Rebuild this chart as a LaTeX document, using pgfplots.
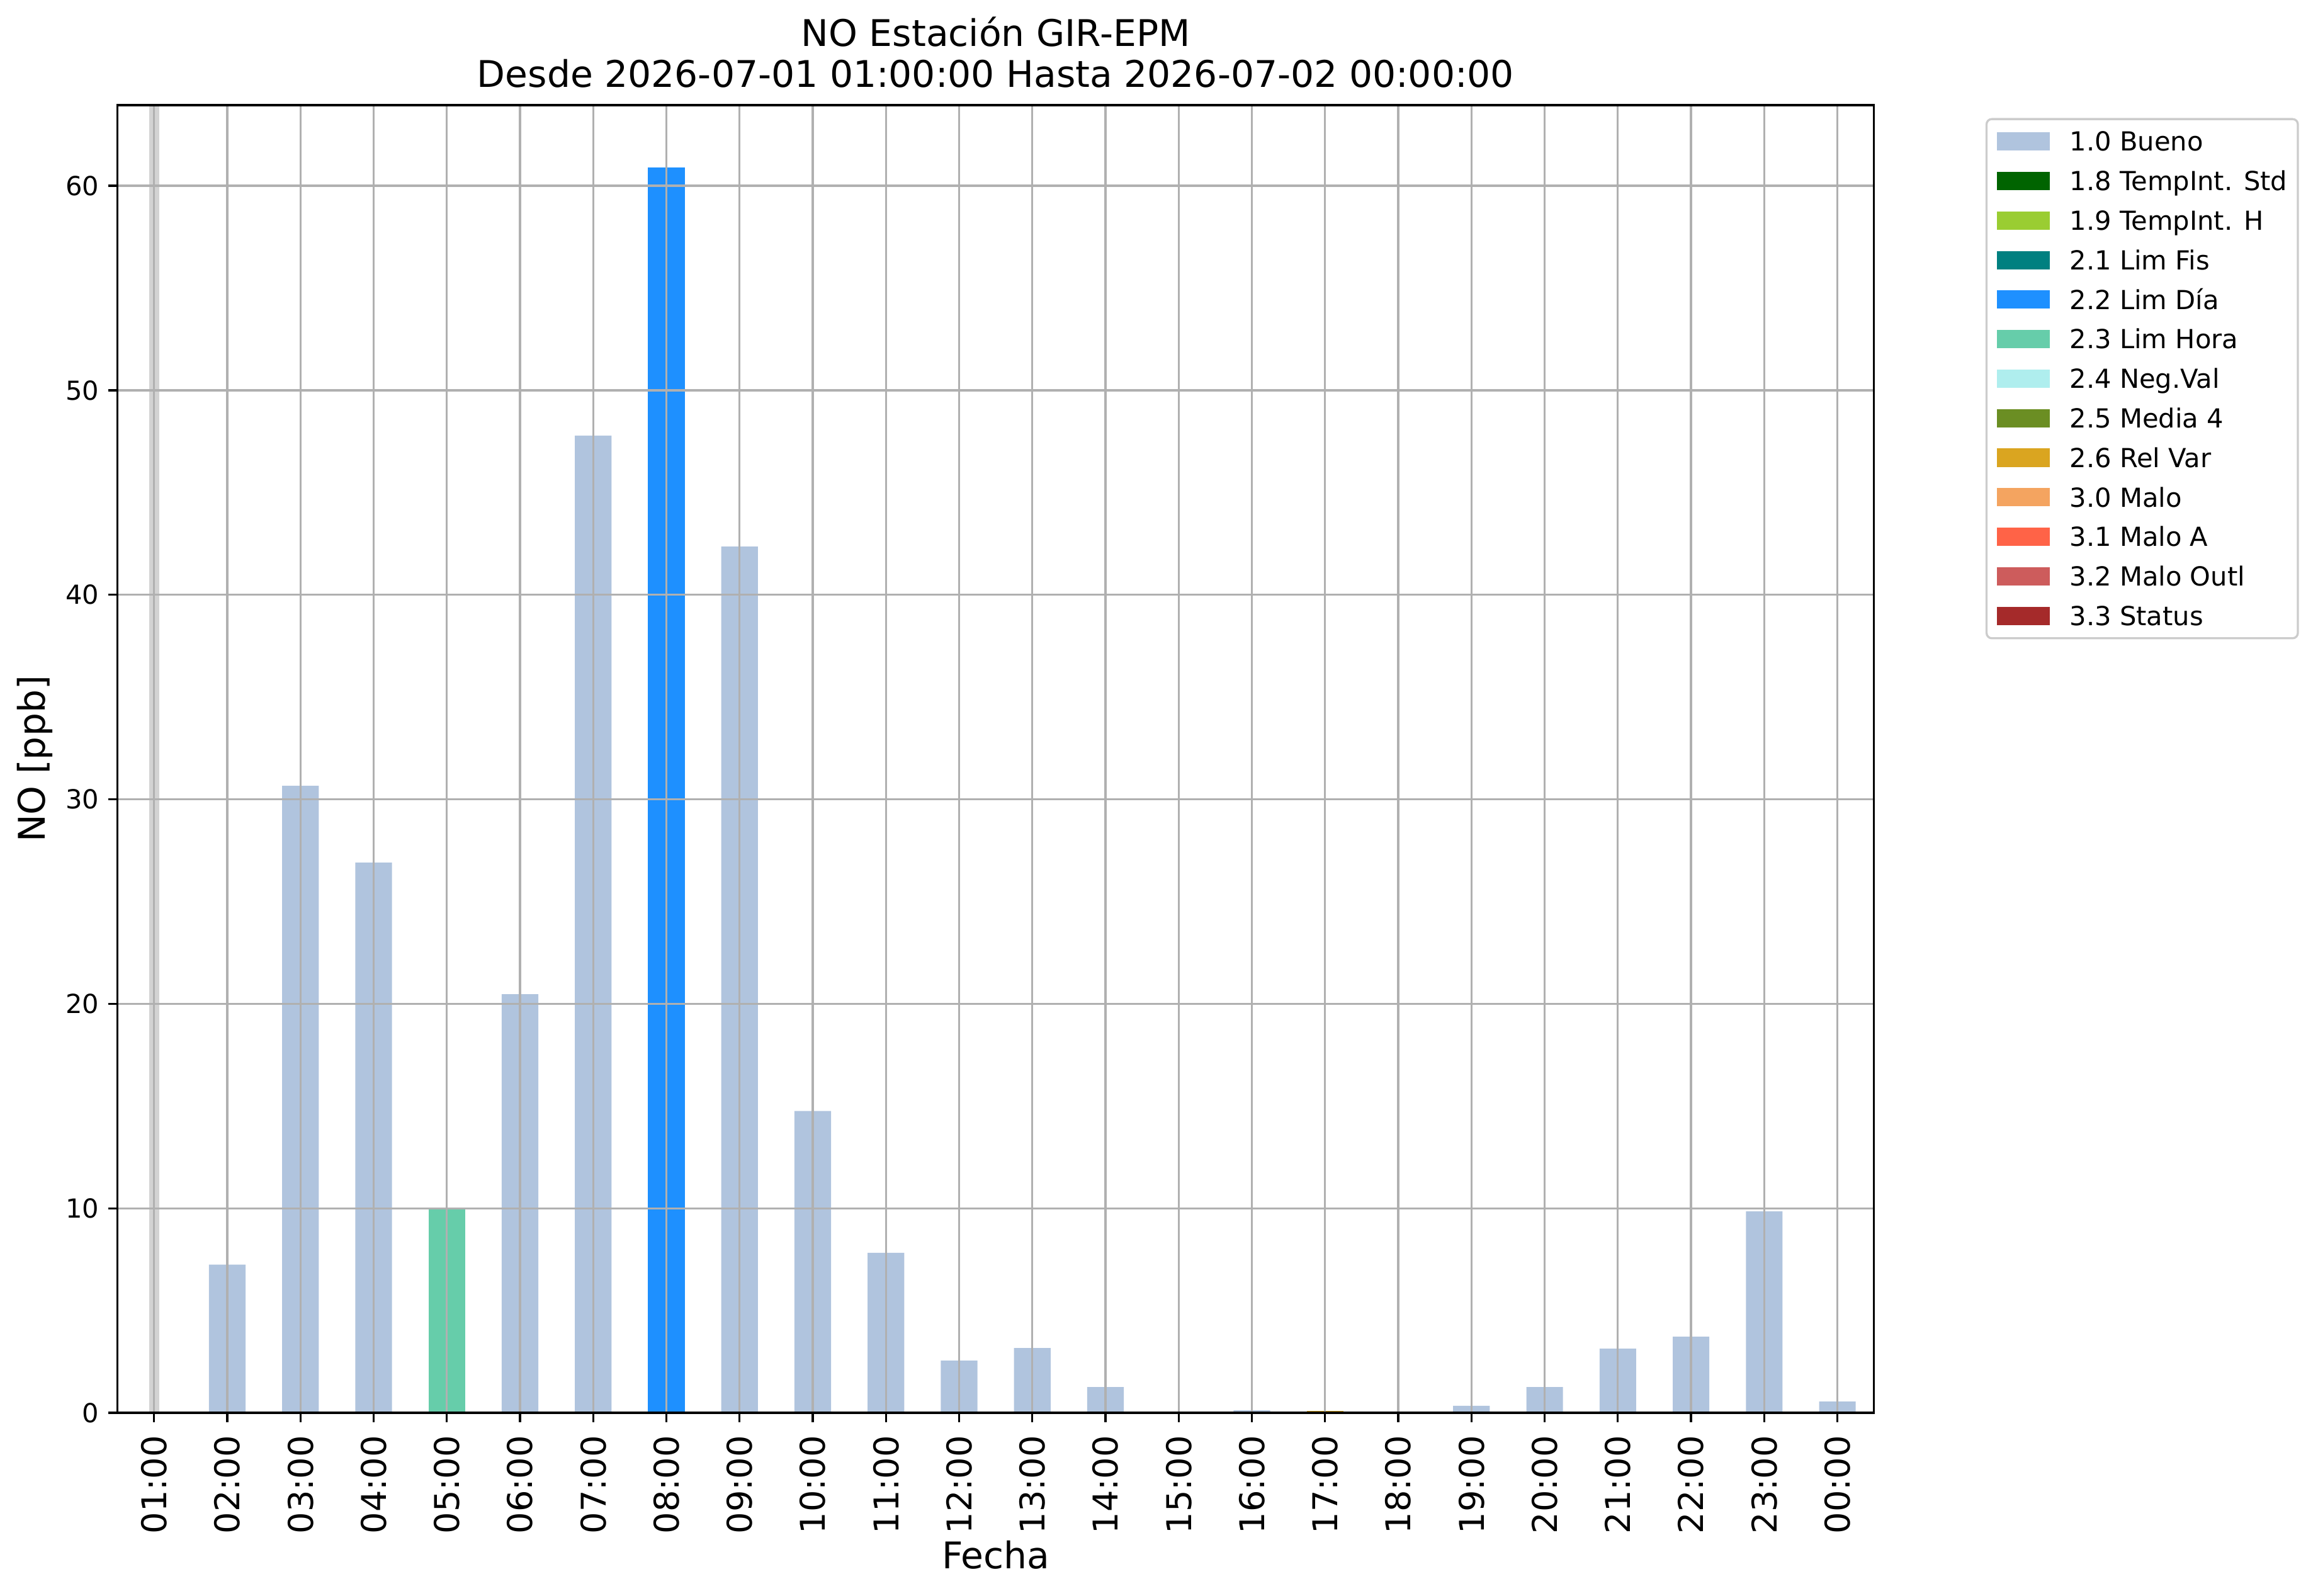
\documentclass[border=0pt]{standalone}
\usepackage{pgfplots}
\pgfplotsset{compat=1.18}
\usepackage{fontspec}
\setmainfont{DejaVu Sans}
\definecolor{cBueno}{HTML}{B0C4DE}
\definecolor{cTempStd}{HTML}{006400}
\definecolor{cTempH}{HTML}{9ACD32}
\definecolor{cLimFis}{HTML}{008080}
\definecolor{cLimDia}{HTML}{1E90FF}
\definecolor{cLimHora}{HTML}{66CDAA}
\definecolor{cNegVal}{HTML}{AFEEEE}
\definecolor{cMedia}{HTML}{6B8E23}
\definecolor{cRelVar}{HTML}{DAA520}
\definecolor{cMalo}{HTML}{F4A460}
\definecolor{cMaloA}{HTML}{FF6347}
\definecolor{cMaloOutl}{HTML}{CD5C5C}
\definecolor{cStatus}{HTML}{A52A2A}
\definecolor{cGrid}{HTML}{B0B0B0}
\definecolor{cMissing}{HTML}{D3D3D3}
\definecolor{cLegFrame}{HTML}{CCCCCC}
\begin{document}
\begin{tikzpicture}
\useasboundingbox (0,0) rectangle (883.68pt,608.16pt);
\begin{axis}[
  at={(44.8pt,69.6pt)}, anchor=south west,
  scale only axis, width=669.6pt, height=498.5pt,
  xmin=-0.5, xmax=23.5, ymin=0, ymax=63.945,
  axis on top,
  grid=major,
  grid style={cGrid, line width=0.8pt},
  axis line style={black, line width=0.8pt},
  tick pos=left,
  tick align=outside,
  major tick length=3.5pt,
  tick style={black, line width=0.8pt},
  xtick={0,...,23},
  xticklabels={01:00,02:00,03:00,04:00,05:00,06:00,07:00,08:00,09:00,10:00,11:00,12:00,13:00,14:00,15:00,16:00,17:00,18:00,19:00,20:00,21:00,22:00,23:00,00:00},
  ytick={0,10,20,30,40,50,60},
  /pgf/number format/assume math mode=true,
  xticklabel style={font=\fontsize{13}{15.6}\selectfont, rotate=90, anchor=east, inner sep=0pt},
  yticklabel style={font=\fontsize{10}{12}\selectfont, anchor=east, inner sep=0pt},
  xticklabel shift=5pt,
  yticklabel shift=3.4pt,
  xlabel={Fecha},
  xlabel style={at={(axis description cs:0.5,0)}, anchor=base, yshift=-59.4pt, font=\fontsize{14}{16.8}\selectfont},
  ylabel={NO [ppb]},
  ylabel style={at={(axis description cs:-0.0472,0.5)}, anchor=center, font=\fontsize{14}{16.8}\selectfont},
  title={NO Estación GIR-EPM\\Desde 2026-07-01 01:00:00 Hasta 2026-07-02 00:00:00},
  title style={at={(axis description cs:0.5,1)}, anchor=south, align=center, inner sep=0pt, text depth=0pt, yshift=0.5pt, font=\fontsize{14}{15.6}\selectfont},
  legend cell align=left,
  legend image code/.code={\fill[#1, sharp corners] (0pt,-3.5pt) rectangle (20pt,3.5pt);},
  legend style={at={(axis description cs:1.0635,0.9901)}, anchor=north west,
    draw=cLegFrame, line width=0.8pt, rounded corners=2pt, fill=white,
    inner xsep=4pt, inner ysep=1pt, font=\fontsize{10}{12}\selectfont,
    nodes={inner xsep=0pt, inner ysep=0pt, text height=11.19pt, text depth=3.88pt},
    /tikz/row sep=0pt,
    /tikz/every odd column/.append style={column sep=7.7pt}},
]
% missing value band at 01:00
\addplot[ybar, bar width=0.135, bar shift=0pt, fill=cMissing, draw=none, forget plot] coordinates {(0,63.945)};
% 1.0 Bueno
\addplot[ybar, bar width=0.5, bar shift=0pt, fill=cBueno, draw=none, forget plot] coordinates {
(1,7.25) (2,30.66) (3,26.90) (5,20.47) (6,47.78) (8,42.36) (9,14.76) (10,7.82) (11,2.55) (12,3.17) (13,1.26) (15,0.12) (18,0.34) (19,1.26) (20,3.14) (21,3.72) (22,9.85) (23,0.55)};
% 2.2 Lim Dia
\addplot[ybar, bar width=0.5, bar shift=0pt, fill=cLimDia, draw=none, forget plot] coordinates {(7,60.90)};
% 2.3 Lim Hora
\addplot[ybar, bar width=0.5, bar shift=0pt, fill=cLimHora, draw=none, forget plot] coordinates {(4,9.99)};
% 2.6 Rel Var
\addplot[ybar, bar width=0.5, bar shift=0pt, fill=cRelVar, draw=none, forget plot] coordinates {(16,0.08)};
\addlegendimage{fill=cBueno, draw=none}
\addlegendentry{1.0 Bueno}
\addlegendimage{fill=cTempStd, draw=none}
\addlegendentry{1.8 TempInt. Std}
\addlegendimage{fill=cTempH, draw=none}
\addlegendentry{1.9 TempInt. H}
\addlegendimage{fill=cLimFis, draw=none}
\addlegendentry{2.1 Lim Fis}
\addlegendimage{fill=cLimDia, draw=none}
\addlegendentry{2.2 Lim Día}
\addlegendimage{fill=cLimHora, draw=none}
\addlegendentry{2.3 Lim Hora}
\addlegendimage{fill=cNegVal, draw=none}
\addlegendentry{2.4 Neg.Val}
\addlegendimage{fill=cMedia, draw=none}
\addlegendentry{2.5 Media 4}
\addlegendimage{fill=cRelVar, draw=none}
\addlegendentry{2.6 Rel Var}
\addlegendimage{fill=cMalo, draw=none}
\addlegendentry{3.0 Malo}
\addlegendimage{fill=cMaloA, draw=none}
\addlegendentry{3.1 Malo A}
\addlegendimage{fill=cMaloOutl, draw=none}
\addlegendentry{3.2 Malo Outl}
\addlegendimage{fill=cStatus, draw=none}
\addlegendentry{3.3 Status}
\end{axis}
\end{tikzpicture}
\end{document}
